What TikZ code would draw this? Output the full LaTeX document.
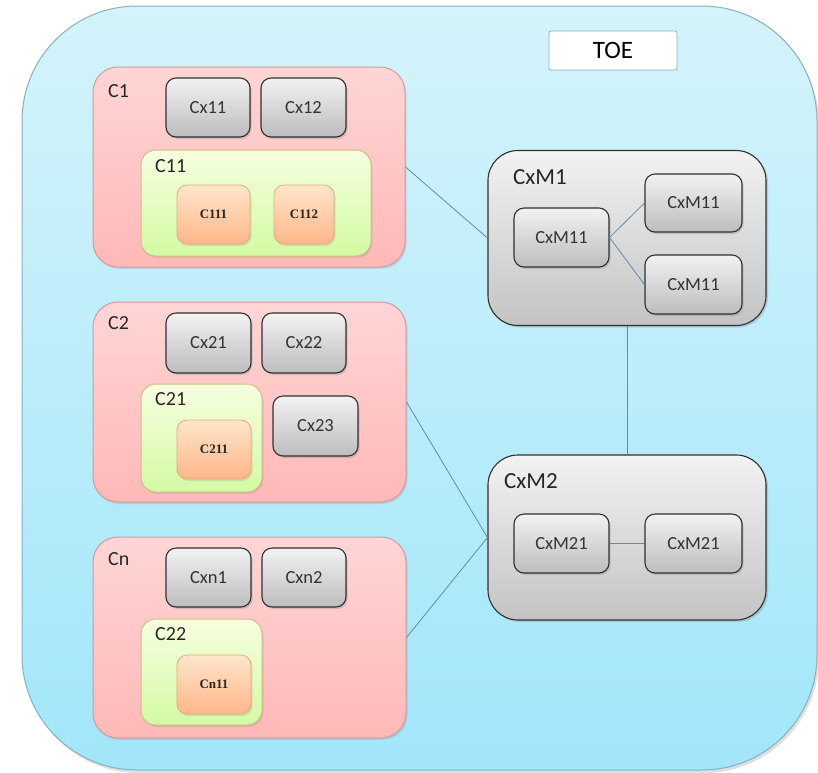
\documentclass[tikz,border=0pt]{standalone}
\usepackage{fontspec}
\setmainfont{Carlito}
\newfontfamily\smallserif{Liberation Serif}
\usetikzlibrary{shadows}
\definecolor{outtop}{HTML}{D4F3FB}
\definecolor{outbot}{HTML}{A2E6FA}
\definecolor{outline}{HTML}{88AFC2}
\definecolor{pinktop}{HTML}{FFD5D5}
\definecolor{pinkbot}{HTML}{FFB8B8}
\definecolor{pinkline}{HTML}{D49A9A}
\definecolor{greentop}{HTML}{F6FFE0}
\definecolor{greenbot}{HTML}{D4FAA4}
\definecolor{greenline}{HTML}{D0BE80}
\definecolor{orangetop}{HTML}{FFE6CA}
\definecolor{orangebot}{HTML}{FFB68A}
\definecolor{orangeline}{HTML}{E8A878}
\definecolor{graytop}{HTML}{F2F2F2}
\definecolor{graybot}{HTML}{BDBDBD}
\definecolor{grayline}{HTML}{303030}
\definecolor{linkcol}{HTML}{5E8CB0}
\begin{document}
\begin{tikzpicture}[x=1pt,y=-1pt,
  outerbox/.style={draw=outline, line width=1pt, rounded corners=115pt, top color=outtop, bottom color=outbot, inner sep=0pt,
    drop shadow={opacity=0.25, shadow xshift=2pt, shadow yshift=-3pt}},
  toebox/.style={draw=outline, line width=0.8pt, fill=white, rounded corners=2pt, inner sep=0pt, font=\fontsize{25}{27}\selectfont},
  pinkbox/.style={draw=pinkline, line width=1pt, rounded corners=25pt, top color=pinktop, bottom color=pinkbot, inner sep=0pt,
    drop shadow={opacity=0.2, shadow xshift=1.5pt, shadow yshift=-2pt}},
  greenbox/.style={draw=greenline, line width=1pt, rounded corners=15pt, top color=greentop, bottom color=greenbot, inner sep=0pt,
    drop shadow={opacity=0.2, shadow xshift=1.5pt, shadow yshift=-2pt}},
  orangebox/.style={draw=orangeline, line width=0.8pt, rounded corners=10pt, top color=orangetop, bottom color=orangebot, inner sep=0pt,
    font=\smallserif\bfseries\fontsize{13}{14}\selectfont, text=black!85,
    drop shadow={opacity=0.2, shadow xshift=1.5pt, shadow yshift=-2pt}},
  graybox/.style={draw=grayline, line width=1.1pt, rounded corners=10pt, top color=graytop, bottom color=graybot, inner sep=0pt,
    font=\fontsize{18.5}{20}\selectfont, text=black!80,
    drop shadow={opacity=0.3, shadow xshift=1.5pt, shadow yshift=-2pt}},
  mbox/.style={draw=grayline, line width=1.1pt, rounded corners=30pt, top color=graytop, bottom color=graybot!90, inner sep=0pt,
    drop shadow={opacity=0.3, shadow xshift=2pt, shadow yshift=-2pt}},
  lbl/.style={anchor=base west, inner sep=0pt, font=\fontsize{20}{22}\selectfont, text=black!85},
  mlbl/.style={anchor=base west, inner sep=0pt, font=\fontsize{23}{25}\selectfont, text=black!85},
  link/.style={draw=linkcol, line width=0.8pt}
]
\useasboundingbox (0,0) rectangle (818,772);

% outer frame
\node[outerbox, minimum width=795, minimum height=764] (frame) at (419.5,388) {};
\node[toebox, minimum width=128, minimum height=39] (toe) at (613,50.5) {TOE};

% C1
\node[pinkbox, minimum width=312, minimum height=200] (C1) at (249,167) {};
\node[lbl] (C1l) at (108,97) {C1};
\node[graybox, minimum width=84, minimum height=59] (Cx11) at (208,107.5) {Cx11};
\node[graybox, minimum width=85, minimum height=59] (Cx12) at (303.5,107.5) {Cx12};
\node[greenbox, minimum width=230, minimum height=106] (C11) at (256,203) {};
\node[lbl] (C11l) at (155,172) {C11};
\node[orangebox, minimum width=73, minimum height=59] (C111) at (213.5,214.5) {C111};
\node[orangebox, minimum width=60, minimum height=59] (C112) at (304,214.5) {C112};

% C2
\node[pinkbox, minimum width=313, minimum height=200] (C2) at (249.5,402) {};
\node[lbl] (C2l) at (108,329) {C2};
\node[graybox, minimum width=85, minimum height=60] (Cx21) at (208.5,343) {Cx21};
\node[graybox, minimum width=84, minimum height=60] (Cx22) at (304,343) {Cx22};
\node[greenbox, minimum width=121, minimum height=108] (C21) at (201.5,438) {};
\node[lbl] (C21l) at (155,405) {C21};
\node[orangebox, minimum width=74, minimum height=59] (C211) at (214,449.5) {C211};
\node[graybox, minimum width=85, minimum height=60] (Cx23) at (315.5,426) {Cx23};

% Cn
\node[pinkbox, minimum width=313, minimum height=201] (Cn) at (249.5,637.5) {};
\node[lbl] (Cnl) at (108,565) {Cn};
\node[graybox, minimum width=85, minimum height=59] (Cxn1) at (208.5,577.5) {Cxn1};
\node[graybox, minimum width=84, minimum height=59] (Cxn2) at (304,577.5) {Cxn2};
\node[greenbox, minimum width=121, minimum height=106] (C22) at (201.5,672) {};
\node[lbl] (C22l) at (155,640) {C22};
\node[orangebox, minimum width=74, minimum height=59] (Cn11) at (214,684.5) {Cn11};

% CxM1
\node[mbox, minimum width=278, minimum height=175] (CxM1) at (627,238) {};
\node[mlbl] (CxM1l) at (513,184) {CxM1};
\node[graybox, minimum width=95, minimum height=59] (CxM11a) at (561.5,237.5) {CxM11};
\node[graybox, minimum width=97, minimum height=58] (CxM11b) at (693.5,203) {CxM11};
\node[graybox, minimum width=97, minimum height=59] (CxM11c) at (693.5,284.5) {CxM11};

% CxM2
\node[mbox, minimum width=278, minimum height=165] (CxM2) at (627,537.5) {};
\node[mlbl] (CxM2l) at (504,488) {CxM2};
\node[graybox, minimum width=95, minimum height=59] (CxM21a) at (561.5,543.5) {CxM21};
\node[graybox, minimum width=97, minimum height=59] (CxM21b) at (693.5,543.5) {CxM21};

% connectors
\draw[link] (CxM11a.east) -- (CxM11b.west);
\draw[link] (CxM11a.east) -- (CxM11c.west);
\draw[link] (CxM21a.east) -- (CxM21b.west);
\draw[link] (C1.east) -- (CxM1.west);
\draw[link] (C2.east) -- (CxM2.west);
\draw[link] (Cn.east) -- (CxM2.west);
\draw[link] (CxM1.south) -- (CxM2.north);
\end{tikzpicture}
\end{document}
